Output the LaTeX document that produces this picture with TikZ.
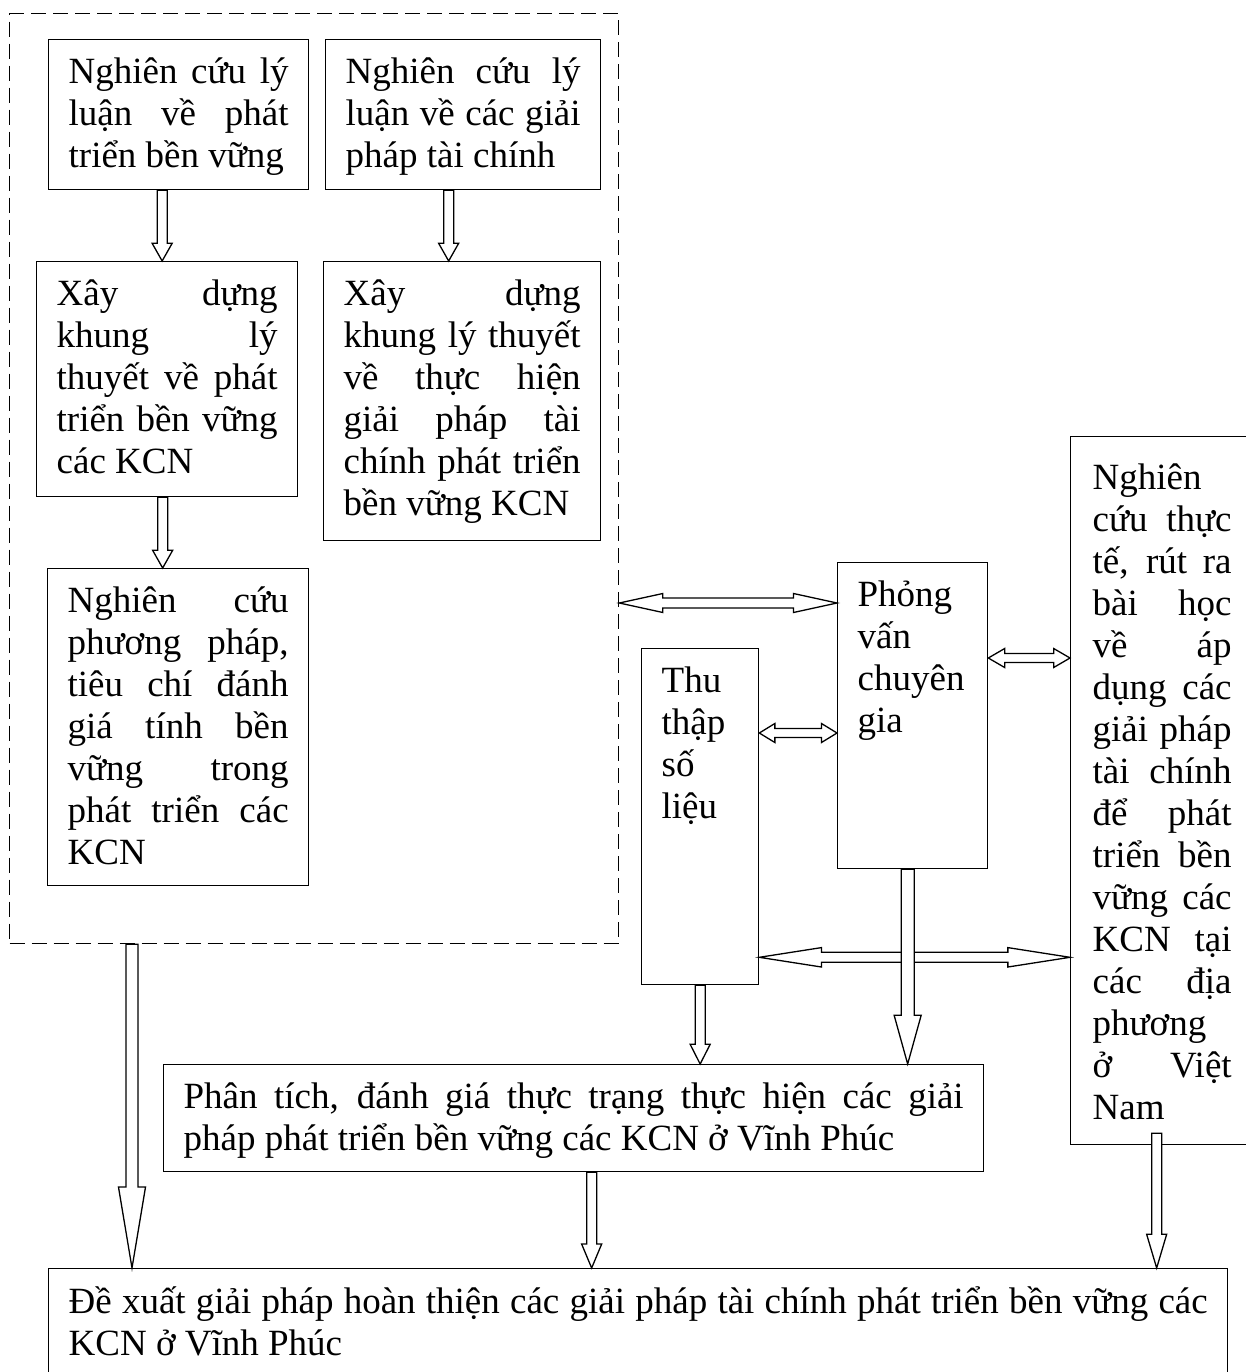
\documentclass[tikz,border=0pt]{standalone}
\usepackage{fontspec}
\setmainfont{Liberation Serif}
\usetikzlibrary{calc}
\hyphenpenalty=10000
\tolerance=9999
\hbadness=10000

% hollow block arrows: shaft half width, head half width, head share of length, from, to
\newcommand{\blockarrow}[5]{%
  \filldraw[arrowbody] let \p1=(#4), \p2=(#5), \n1={atan2(\y2-\y1,\x2-\x1)},
    \n2={veclen(\x2-\x1,\y2-\y1)}, \n3={#3*\n2} in
    [shift={(\p1)}, rotate=\n1] (0,-#1) -- (\n2-\n3,-#1) -- (\n2-\n3,-#2) -- (\n2,0)
    -- (\n2-\n3,#2) -- (\n2-\n3,#1) -- (0,#1) -- cycle;}
\newcommand{\dblockarrow}[5]{%
  \filldraw[arrowbody] let \p1=(#4), \p2=(#5), \n1={atan2(\y2-\y1,\x2-\x1)},
    \n2={veclen(\x2-\x1,\y2-\y1)}, \n3={#3*\n2} in
    [shift={(\p1)}, rotate=\n1] (0,0) -- (\n3,-#2) -- (\n3,-#1) -- (\n2-\n3,-#1) -- (\n2-\n3,-#2)
    -- (\n2,0) -- (\n2-\n3,#2) -- (\n2-\n3,#1) -- (\n3,#1) -- (\n3,#2) -- cycle;}

\tikzset{
  box/.style={draw, line width=1.3pt, anchor=north west, inner xsep=20pt, inner ysep=0pt,
    align=justify, text height=44pt, font={\fontsize{37}{42}\selectfont}},
  frame/.style={draw, line width=1.3pt, dash pattern=on 15pt off 7pt, anchor=north west, inner sep=0pt},
  arrowbody/.style={draw, fill=white, line width=1.3pt, line join=miter}
}

\begin{document}
\begin{tikzpicture}[x=1pt,y=-1pt]
\useasboundingbox (0,0) rectangle (1246,1372);
\node[frame, minimum width=609pt, minimum height=930pt] (khung) at (9,13) {};

\node[box, text width=220pt, text depth=106pt] (lyluan) at (48,39) {Nghiên cứu lý\linebreak luận về phát\linebreak triển bền vững};
\node[box, text width=235pt, text depth=106pt] (taichinh) at (325,39) {Nghiên cứu lý\linebreak luận về các giải\linebreak pháp tài chính};
\node[box, text width=221pt, text depth=191pt] (khungptbv) at (36,261) {Xây dựng\linebreak khung lý\linebreak thuyết về phát\linebreak triển bền vững\linebreak các KCN};
\node[box, text width=237pt, text depth=235pt] (khungtc) at (323,261) {Xây dựng\linebreak khung lý thuyết\linebreak về thực hiện\linebreak giải pháp tài\linebreak chính phát triển\linebreak bền vững KCN};
\node[box, text width=221pt, text depth=273pt] (phuongphap) at (47,568) {Nghiên cứu\linebreak phương pháp,\linebreak tiêu chí đánh\linebreak giá tính bền\linebreak vững trong\linebreak phát triển các\linebreak KCN};

\node[box, text width=110pt, text depth=262pt] (phongvan) at (837,562) {Phỏng\\ vấn\\ chuyên\\ gia};
\node[box, text width=77pt, text depth=292pt] (thuthap) at (641,648) {Thu\\ thập\\ số\\ liệu};
\node[box, text width=139pt, inner xsep=22pt, text height=53pt, text depth=655pt] (thucte) at (1070,436) {Nghiên\\ cứu thực\linebreak tế, rút ra\linebreak bài học\linebreak về áp\linebreak dụng các\linebreak giải pháp\linebreak tài chính\linebreak để phát\linebreak triển bền\linebreak vững các\linebreak KCN tại\linebreak các địa\linebreak phương\\ ở Việt\linebreak Nam};

\node[box, text width=780pt, text depth=63pt] (phantich) at (163,1064) {Phân tích, đánh giá thực trạng thực hiện các giải\linebreak pháp phát triển bền vững các KCN ở Vĩnh Phúc};
\node[box, text width=1139pt, text height=45pt, text depth=87pt] (dexuat) at (48,1268) {Đề xuất giải pháp hoàn thiện các giải pháp tài chính phát triển bền vững các\linebreak KCN ở Vĩnh Phúc};

% left column
\blockarrow{5}{10}{.25}{[xshift=-5]khungptbv.north |- lyluan.south}{[xshift=-5]khungptbv.north}
\blockarrow{5}{10}{.25}{[xshift=-13.5]khungtc.north |- taichinh.south}{[xshift=-13.5]khungtc.north}
\blockarrow{5}{10}{.25}{[xshift=-4.5]khungptbv.south}{[xshift=-4.5]khungptbv.south |- phuongphap.north}

% links on the right
\dblockarrow{5}{9.5}{.2}{[yshift=-41]phongvan.north west -| khung.east}{[yshift=-41]phongvan.north west}
\dblockarrow{4.5}{9.5}{.2}{[yshift=-85]thuthap.north east}{[yshift=-85]thuthap.north east -| phongvan.west}
\dblockarrow{4.5}{9.5}{.2}{[yshift=-96]phongvan.north east}{[yshift=-96]phongvan.north east -| thucte.west}
\dblockarrow{5}{9.7}{.2}{[yshift=28]thuthap.south east}{[yshift=28]thuthap.south east -| thucte.west}

% down to the results
\blockarrow{6.5}{13.5}{.25}{[xshift=-5]phongvan.south}{[xshift=-5]phongvan.south |- phantich.north}
\blockarrow{5}{10}{.25}{thuthap.south}{thuthap.south |- phantich.north}
\blockarrow{6}{13.5}{.25}{[xshift=123]khung.south west}{[xshift=123]khung.south west |- dexuat.north}
\blockarrow{5}{10}{.25}{[xshift=18]phantich.south}{[xshift=18]phantich.south |- dexuat.north}
\blockarrow{5}{10}{.25}{[xshift=-5.5,yshift=12]thucte.south}{[xshift=-5.5]thucte.south |- dexuat.north}
\end{tikzpicture}
\end{document}
